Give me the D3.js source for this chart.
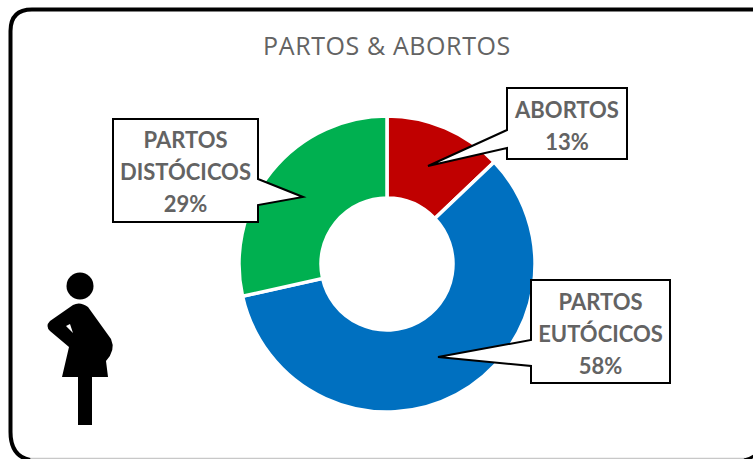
<!DOCTYPE html>
<html>
<head>
<meta charset="utf-8">
<script src="https://cdn.jsdelivr.net/npm/d3@7"></script>
<style>
  body { margin: 0; background: #fff; overflow: hidden; }
  svg { display: block; }
  text { font-family: Lato, sans-serif; fill: #636363; }
</style>
</head>
<body>
<div id="plot"></div>
<script>
const width = 753;
const height = 459;

const categories = ["ABORTOS", "PARTOS EUTÓCICOS", "PARTOS DISTÓCICOS"];
const values = [12.9, 58.6, 28.5];
const colors = ["#C00000", "#0070C0", "#00B050"];
const labelLines = [["ABORTOS", "13%"], ["PARTOS", "EUTÓCICOS", "58%"], ["PARTOS", "DISTÓCICOS", "29%"]];

const svg = d3.select("div#plot")
  .append("svg")
  .attr("width", width)
  .attr("height", height);

// frame runs off the right and bottom of the crop
svg.append("line")
  .attr("x1", 26).attr("x2", 745).attr("y1", 458.5).attr("y2", 458.5)
  .attr("stroke", "#c8c8c8").attr("stroke-width", 1.5);
svg.append("path")
  .attr("d", "M753,9.5 H32 Q10.5,9.5 10.5,31 V432 Q10.5,456 30,460")
  .attr("fill", "none")
  .attr("stroke", "#000")
  .attr("stroke-width", 4);
svg.append("path")
  .attr("d", "M744,460 Q750,459 755,455")
  .attr("fill", "none")
  .attr("stroke", "#000")
  .attr("stroke-width", 3);

svg.append("text")
  .attr("x", 387)
  .attr("y", 55)
  .attr("text-anchor", "middle")
  .style("font-family", "'Open Sans', sans-serif")
  .style("font-size", "25px")
  .style("letter-spacing", "0.6px")
  .text("PARTOS & ABORTOS");

const g = svg.append("g")
  .attr("transform", "translate(387, 264)");

const pie = d3.pie().sort(null).value(d => d);
const arc = d3.arc().innerRadius(66).outerRadius(148);

g.selectAll("path")
  .data(pie(values))
  .enter().append("path")
  .attr("d", arc)
  .attr("fill", (d, i) => colors[i])
  .attr("stroke", "#fff")
  .attr("stroke-width", 3.5);

// callouts: box plus tail, pointing into the ring
const callouts = [
  { x: 507, y: 88, w: 120, h: 71, tip: [428, 166], side: "left", a: 130, b: 148 },
  { x: 531, y: 280, w: 139, h: 103, tip: [438, 357], side: "left", a: 340, b: 366 },
  { x: 113, y: 119, w: 145, h: 103, tip: [303, 197], side: "right", a: 179, b: 205 }
];

function calloutPath(c) {
  const r = c.x + c.w, bt = c.y + c.h;
  if (c.side === "left") {
    return `M${c.x},${c.y} H${r} V${bt} H${c.x} V${c.b} L${c.tip[0]},${c.tip[1]} L${c.x},${c.a} Z`;
  }
  return `M${c.x},${c.y} H${r} V${c.a} L${c.tip[0]},${c.tip[1]} L${r},${c.b} V${bt} H${c.x} Z`;
}

const boxes = svg.selectAll(".callout")
  .data(callouts)
  .enter().append("g")
  .attr("class", "callout");

boxes.append("path")
  .attr("d", calloutPath)
  .attr("fill", "#fff")
  .attr("stroke", "#000")
  .attr("stroke-width", 2);

boxes.each(function(c, i) {
  d3.select(this).selectAll("text")
    .data(labelLines[i])
    .enter().append("text")
    .attr("x", c.x + c.w / 2)
    .attr("y", (d, j) => c.y + (i === 2 ? 29 : 30) + j * 32)
    .attr("text-anchor", "middle")
    .style("font-size", "22px")
    .style("font-weight", "bold")
    .text(d => d);
});

// pregnant woman icon
const icon = svg.append("g");
icon.append("circle").attr("cx", 80).attr("cy", 286).attr("r", 13.5).attr("fill", "#000");
icon.append("path")
  .attr("fill", "#000")
  .attr("fill-rule", "evenodd")
  .attr("d", "M73,305 Q80,301 88,307 L111,339 Q116,350 106,361 L108,377 H62 L69,347 L50,331 Q45,326 50,321 Z M66,326 L70,324 L73,333 Z");
icon.append("rect").attr("x", 78).attr("y", 377).attr("width", 14).attr("height", 48).attr("fill", "#000");
</script>
</body>
</html>
